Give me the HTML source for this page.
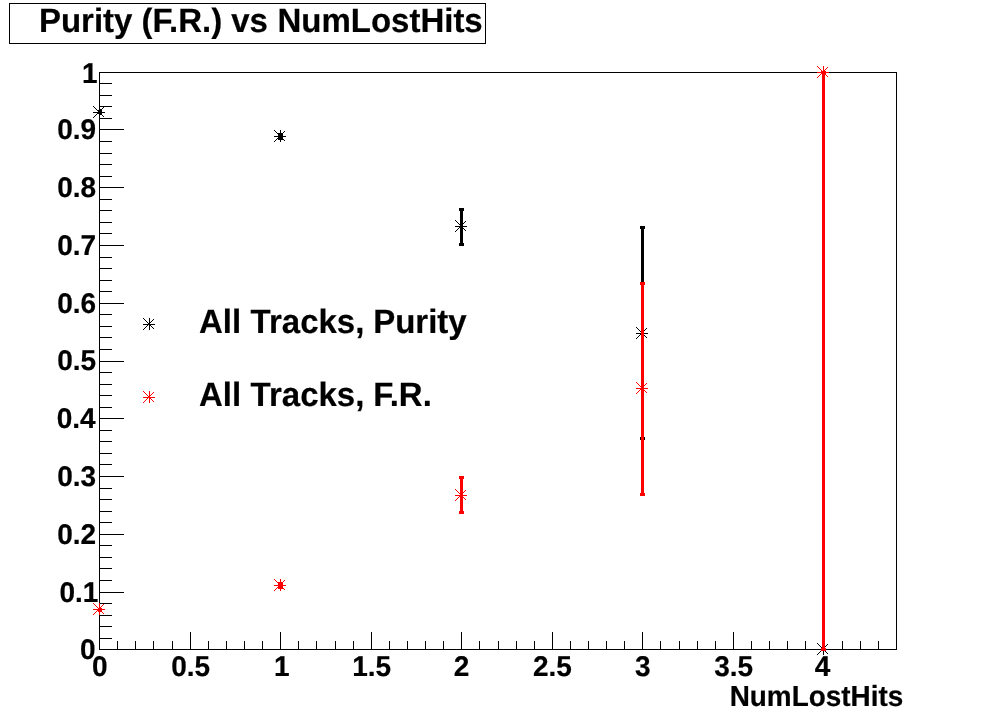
<!DOCTYPE html>
<html lang="en">
<head>
<meta charset="utf-8">
<title>Purity (F.R.) vs NumLostHits</title>
<style>
html,body{margin:0;padding:0;background:#fff;}
body{width:996px;height:722px;overflow:hidden;}
svg{display:block;}
text{text-rendering:geometricPrecision;}
</style>
</head>
<body>
<svg width="996" height="722" viewBox="0 0 996 722">
<rect x="0" y="0" width="996" height="722" fill="#fff"/>
<g shape-rendering="crispEdges">
<rect x="9.5" y="3.5" width="476" height="40" fill="#fff" stroke="#000" stroke-width="1"/>
<rect x="99.5" y="72.5" width="797" height="577" fill="none" stroke="#000" stroke-width="1"/>
<rect x="100" y="649" width="24" height="1" fill="#000"/>
<rect x="100" y="638" width="12" height="1" fill="#000"/>
<rect x="100" y="626" width="12" height="1" fill="#000"/>
<rect x="100" y="615" width="12" height="1" fill="#000"/>
<rect x="100" y="603" width="12" height="1" fill="#000"/>
<rect x="100" y="592" width="24" height="1" fill="#000"/>
<rect x="100" y="580" width="12" height="1" fill="#000"/>
<rect x="100" y="568" width="12" height="1" fill="#000"/>
<rect x="100" y="557" width="12" height="1" fill="#000"/>
<rect x="100" y="545" width="12" height="1" fill="#000"/>
<rect x="100" y="534" width="24" height="1" fill="#000"/>
<rect x="100" y="522" width="12" height="1" fill="#000"/>
<rect x="100" y="511" width="12" height="1" fill="#000"/>
<rect x="100" y="499" width="12" height="1" fill="#000"/>
<rect x="100" y="488" width="12" height="1" fill="#000"/>
<rect x="100" y="476" width="24" height="1" fill="#000"/>
<rect x="100" y="464" width="12" height="1" fill="#000"/>
<rect x="100" y="453" width="12" height="1" fill="#000"/>
<rect x="100" y="441" width="12" height="1" fill="#000"/>
<rect x="100" y="430" width="12" height="1" fill="#000"/>
<rect x="100" y="418" width="24" height="1" fill="#000"/>
<rect x="100" y="407" width="12" height="1" fill="#000"/>
<rect x="100" y="395" width="12" height="1" fill="#000"/>
<rect x="100" y="384" width="12" height="1" fill="#000"/>
<rect x="100" y="372" width="12" height="1" fill="#000"/>
<rect x="100" y="361" width="24" height="1" fill="#000"/>
<rect x="100" y="349" width="12" height="1" fill="#000"/>
<rect x="100" y="337" width="12" height="1" fill="#000"/>
<rect x="100" y="326" width="12" height="1" fill="#000"/>
<rect x="100" y="314" width="12" height="1" fill="#000"/>
<rect x="100" y="303" width="24" height="1" fill="#000"/>
<rect x="100" y="291" width="12" height="1" fill="#000"/>
<rect x="100" y="280" width="12" height="1" fill="#000"/>
<rect x="100" y="268" width="12" height="1" fill="#000"/>
<rect x="100" y="257" width="12" height="1" fill="#000"/>
<rect x="100" y="245" width="24" height="1" fill="#000"/>
<rect x="100" y="233" width="12" height="1" fill="#000"/>
<rect x="100" y="222" width="12" height="1" fill="#000"/>
<rect x="100" y="210" width="12" height="1" fill="#000"/>
<rect x="100" y="199" width="12" height="1" fill="#000"/>
<rect x="100" y="187" width="24" height="1" fill="#000"/>
<rect x="100" y="176" width="12" height="1" fill="#000"/>
<rect x="100" y="164" width="12" height="1" fill="#000"/>
<rect x="100" y="153" width="12" height="1" fill="#000"/>
<rect x="100" y="141" width="12" height="1" fill="#000"/>
<rect x="100" y="129" width="24" height="1" fill="#000"/>
<rect x="100" y="118" width="12" height="1" fill="#000"/>
<rect x="100" y="106" width="12" height="1" fill="#000"/>
<rect x="100" y="95" width="12" height="1" fill="#000"/>
<rect x="100" y="83" width="12" height="1" fill="#000"/>
<rect x="100" y="72" width="24" height="1" fill="#000"/>
<rect x="99" y="632" width="1" height="17" fill="#000"/>
<rect x="117" y="641" width="1" height="8" fill="#000"/>
<rect x="135" y="641" width="1" height="8" fill="#000"/>
<rect x="153" y="641" width="1" height="8" fill="#000"/>
<rect x="172" y="641" width="1" height="8" fill="#000"/>
<rect x="190" y="632" width="1" height="17" fill="#000"/>
<rect x="208" y="641" width="1" height="8" fill="#000"/>
<rect x="226" y="641" width="1" height="8" fill="#000"/>
<rect x="244" y="641" width="1" height="8" fill="#000"/>
<rect x="262" y="641" width="1" height="8" fill="#000"/>
<rect x="280" y="632" width="1" height="17" fill="#000"/>
<rect x="298" y="641" width="1" height="8" fill="#000"/>
<rect x="316" y="641" width="1" height="8" fill="#000"/>
<rect x="335" y="641" width="1" height="8" fill="#000"/>
<rect x="353" y="641" width="1" height="8" fill="#000"/>
<rect x="371" y="632" width="1" height="17" fill="#000"/>
<rect x="389" y="641" width="1" height="8" fill="#000"/>
<rect x="407" y="641" width="1" height="8" fill="#000"/>
<rect x="425" y="641" width="1" height="8" fill="#000"/>
<rect x="443" y="641" width="1" height="8" fill="#000"/>
<rect x="461" y="632" width="1" height="17" fill="#000"/>
<rect x="479" y="641" width="1" height="8" fill="#000"/>
<rect x="498" y="641" width="1" height="8" fill="#000"/>
<rect x="516" y="641" width="1" height="8" fill="#000"/>
<rect x="534" y="641" width="1" height="8" fill="#000"/>
<rect x="552" y="632" width="1" height="17" fill="#000"/>
<rect x="570" y="641" width="1" height="8" fill="#000"/>
<rect x="588" y="641" width="1" height="8" fill="#000"/>
<rect x="606" y="641" width="1" height="8" fill="#000"/>
<rect x="624" y="641" width="1" height="8" fill="#000"/>
<rect x="642" y="632" width="1" height="17" fill="#000"/>
<rect x="660" y="641" width="1" height="8" fill="#000"/>
<rect x="679" y="641" width="1" height="8" fill="#000"/>
<rect x="697" y="641" width="1" height="8" fill="#000"/>
<rect x="715" y="641" width="1" height="8" fill="#000"/>
<rect x="733" y="632" width="1" height="17" fill="#000"/>
<rect x="751" y="641" width="1" height="8" fill="#000"/>
<rect x="769" y="641" width="1" height="8" fill="#000"/>
<rect x="787" y="641" width="1" height="8" fill="#000"/>
<rect x="805" y="641" width="1" height="8" fill="#000"/>
<rect x="823" y="632" width="1" height="17" fill="#000"/>
<rect x="842" y="641" width="1" height="8" fill="#000"/>
<rect x="860" y="641" width="1" height="8" fill="#000"/>
<rect x="878" y="641" width="1" height="8" fill="#000"/>
<rect x="896" y="641" width="1" height="8" fill="#000"/>
<rect x="98" y="110" width="4" height="4" fill="#000"/>
<rect x="99" y="109" width="3" height="6" fill="#000"/>
<rect x="279" y="134" width="3" height="5" fill="#000"/>
<rect x="278" y="133" width="5" height="3" fill="#000"/>
<rect x="278" y="137" width="5" height="3" fill="#000"/>
<rect x="460" y="209" width="3" height="36" fill="#000"/>
<rect x="459" y="208" width="5" height="3" fill="#000"/>
<rect x="459" y="243" width="5" height="3" fill="#000"/>
<rect x="641" y="227" width="3" height="212" fill="#000"/>
<rect x="640" y="226" width="5" height="3" fill="#000"/>
<rect x="640" y="437" width="5" height="3" fill="#000"/>
<rect x="822" y="72" width="3" height="578" fill="#000"/>
<rect x="821" y="71" width="5" height="3" fill="#000"/>
<rect x="821" y="648" width="5" height="3" fill="#000"/>
<rect x="93" y="112" width="12" height="1" fill="#000"/>
<rect x="99" y="106" width="1" height="12" fill="#000"/>
<path d="M93 106h1v1h-1zM94 107h1v1h-1zM95 108h1v1h-1zM96 109h1v1h-1zM97 110h1v1h-1zM98 111h1v1h-1zM99 112h1v1h-1zM100 113h1v1h-1zM101 114h1v1h-1zM102 115h1v1h-1zM103 116h1v1h-1zM93 117h1v1h-1zM94 116h1v1h-1zM95 115h1v1h-1zM96 114h1v1h-1zM97 113h1v1h-1zM98 112h1v1h-1zM99 111h1v1h-1zM100 110h1v1h-1zM101 109h1v1h-1zM102 108h1v1h-1zM103 107h1v1h-1z" fill="#000"/>
<rect x="274" y="136" width="12" height="1" fill="#000"/>
<rect x="280" y="130" width="1" height="12" fill="#000"/>
<path d="M274 130h1v1h-1zM275 131h1v1h-1zM276 132h1v1h-1zM277 133h1v1h-1zM278 134h1v1h-1zM279 135h1v1h-1zM280 136h1v1h-1zM281 137h1v1h-1zM282 138h1v1h-1zM283 139h1v1h-1zM284 140h1v1h-1zM274 141h1v1h-1zM275 140h1v1h-1zM276 139h1v1h-1zM277 138h1v1h-1zM278 137h1v1h-1zM279 136h1v1h-1zM280 135h1v1h-1zM281 134h1v1h-1zM282 133h1v1h-1zM283 132h1v1h-1zM284 131h1v1h-1z" fill="#000"/>
<rect x="455" y="226" width="12" height="1" fill="#000"/>
<rect x="461" y="220" width="1" height="12" fill="#000"/>
<path d="M455 220h1v1h-1zM456 221h1v1h-1zM457 222h1v1h-1zM458 223h1v1h-1zM459 224h1v1h-1zM460 225h1v1h-1zM461 226h1v1h-1zM462 227h1v1h-1zM463 228h1v1h-1zM464 229h1v1h-1zM465 230h1v1h-1zM455 231h1v1h-1zM456 230h1v1h-1zM457 229h1v1h-1zM458 228h1v1h-1zM459 227h1v1h-1zM460 226h1v1h-1zM461 225h1v1h-1zM462 224h1v1h-1zM463 223h1v1h-1zM464 222h1v1h-1zM465 221h1v1h-1z" fill="#000"/>
<rect x="636" y="333" width="12" height="1" fill="#000"/>
<rect x="642" y="327" width="1" height="12" fill="#000"/>
<path d="M636 327h1v1h-1zM637 328h1v1h-1zM638 329h1v1h-1zM639 330h1v1h-1zM640 331h1v1h-1zM641 332h1v1h-1zM642 333h1v1h-1zM643 334h1v1h-1zM644 335h1v1h-1zM645 336h1v1h-1zM646 337h1v1h-1zM636 338h1v1h-1zM637 337h1v1h-1zM638 336h1v1h-1zM639 335h1v1h-1zM640 334h1v1h-1zM641 333h1v1h-1zM642 332h1v1h-1zM643 331h1v1h-1zM644 330h1v1h-1zM645 329h1v1h-1zM646 328h1v1h-1z" fill="#000"/>
<rect x="817" y="649" width="12" height="1" fill="#000"/>
<rect x="823" y="643" width="1" height="12" fill="#000"/>
<path d="M817 643h1v1h-1zM818 644h1v1h-1zM819 645h1v1h-1zM820 646h1v1h-1zM821 647h1v1h-1zM822 648h1v1h-1zM823 649h1v1h-1zM824 650h1v1h-1zM825 651h1v1h-1zM826 652h1v1h-1zM827 653h1v1h-1zM817 654h1v1h-1zM818 653h1v1h-1zM819 652h1v1h-1zM820 651h1v1h-1zM821 650h1v1h-1zM822 649h1v1h-1zM823 648h1v1h-1zM824 647h1v1h-1zM825 646h1v1h-1zM826 645h1v1h-1zM827 644h1v1h-1z" fill="#000"/>
<rect x="98" y="608" width="4" height="4" fill="#f00"/>
<rect x="97" y="609" width="1" height="2" fill="#f00"/>
<rect x="279" y="583" width="3" height="5" fill="#f00"/>
<rect x="278" y="582" width="5" height="3" fill="#f00"/>
<rect x="278" y="586" width="5" height="3" fill="#f00"/>
<rect x="460" y="477" width="3" height="36" fill="#f00"/>
<rect x="459" y="476" width="5" height="3" fill="#f00"/>
<rect x="459" y="511" width="5" height="3" fill="#f00"/>
<rect x="641" y="283" width="3" height="212" fill="#f00"/>
<rect x="640" y="282" width="5" height="3" fill="#f00"/>
<rect x="640" y="493" width="5" height="3" fill="#f00"/>
<rect x="822" y="72" width="3" height="578" fill="#f00"/>
<rect x="821" y="71" width="5" height="3" fill="#f00"/>
<rect x="821" y="648" width="5" height="3" fill="#f00"/>
<rect x="93" y="609" width="12" height="1" fill="#f00"/>
<rect x="99" y="603" width="1" height="12" fill="#f00"/>
<path d="M93 603h1v1h-1zM94 604h1v1h-1zM95 605h1v1h-1zM96 606h1v1h-1zM97 607h1v1h-1zM98 608h1v1h-1zM99 609h1v1h-1zM100 610h1v1h-1zM101 611h1v1h-1zM102 612h1v1h-1zM103 613h1v1h-1zM93 614h1v1h-1zM94 613h1v1h-1zM95 612h1v1h-1zM96 611h1v1h-1zM97 610h1v1h-1zM98 609h1v1h-1zM99 608h1v1h-1zM100 607h1v1h-1zM101 606h1v1h-1zM102 605h1v1h-1zM103 604h1v1h-1z" fill="#f00"/>
<rect x="274" y="585" width="12" height="1" fill="#f00"/>
<rect x="280" y="579" width="1" height="12" fill="#f00"/>
<path d="M274 579h1v1h-1zM275 580h1v1h-1zM276 581h1v1h-1zM277 582h1v1h-1zM278 583h1v1h-1zM279 584h1v1h-1zM280 585h1v1h-1zM281 586h1v1h-1zM282 587h1v1h-1zM283 588h1v1h-1zM284 589h1v1h-1zM274 590h1v1h-1zM275 589h1v1h-1zM276 588h1v1h-1zM277 587h1v1h-1zM278 586h1v1h-1zM279 585h1v1h-1zM280 584h1v1h-1zM281 583h1v1h-1zM282 582h1v1h-1zM283 581h1v1h-1zM284 580h1v1h-1z" fill="#f00"/>
<rect x="455" y="495" width="12" height="1" fill="#f00"/>
<rect x="461" y="489" width="1" height="12" fill="#f00"/>
<path d="M455 489h1v1h-1zM456 490h1v1h-1zM457 491h1v1h-1zM458 492h1v1h-1zM459 493h1v1h-1zM460 494h1v1h-1zM461 495h1v1h-1zM462 496h1v1h-1zM463 497h1v1h-1zM464 498h1v1h-1zM465 499h1v1h-1zM455 500h1v1h-1zM456 499h1v1h-1zM457 498h1v1h-1zM458 497h1v1h-1zM459 496h1v1h-1zM460 495h1v1h-1zM461 494h1v1h-1zM462 493h1v1h-1zM463 492h1v1h-1zM464 491h1v1h-1zM465 490h1v1h-1z" fill="#f00"/>
<rect x="636" y="388" width="12" height="1" fill="#f00"/>
<rect x="642" y="382" width="1" height="12" fill="#f00"/>
<path d="M636 382h1v1h-1zM637 383h1v1h-1zM638 384h1v1h-1zM639 385h1v1h-1zM640 386h1v1h-1zM641 387h1v1h-1zM642 388h1v1h-1zM643 389h1v1h-1zM644 390h1v1h-1zM645 391h1v1h-1zM646 392h1v1h-1zM636 393h1v1h-1zM637 392h1v1h-1zM638 391h1v1h-1zM639 390h1v1h-1zM640 389h1v1h-1zM641 388h1v1h-1zM642 387h1v1h-1zM643 386h1v1h-1zM644 385h1v1h-1zM645 384h1v1h-1zM646 383h1v1h-1z" fill="#f00"/>
<rect x="817" y="72" width="12" height="1" fill="#f00"/>
<rect x="823" y="66" width="1" height="12" fill="#f00"/>
<path d="M817 66h1v1h-1zM818 67h1v1h-1zM819 68h1v1h-1zM820 69h1v1h-1zM821 70h1v1h-1zM822 71h1v1h-1zM823 72h1v1h-1zM824 73h1v1h-1zM825 74h1v1h-1zM826 75h1v1h-1zM827 76h1v1h-1zM817 77h1v1h-1zM818 76h1v1h-1zM819 75h1v1h-1zM820 74h1v1h-1zM821 73h1v1h-1zM822 72h1v1h-1zM823 71h1v1h-1zM824 70h1v1h-1zM825 69h1v1h-1zM826 68h1v1h-1zM827 67h1v1h-1z" fill="#f00"/>
<rect x="143" y="324" width="12" height="1" fill="#000"/>
<rect x="149" y="318" width="1" height="12" fill="#000"/>
<path d="M143 318h1v1h-1zM144 319h1v1h-1zM145 320h1v1h-1zM146 321h1v1h-1zM147 322h1v1h-1zM148 323h1v1h-1zM149 324h1v1h-1zM150 325h1v1h-1zM151 326h1v1h-1zM152 327h1v1h-1zM153 328h1v1h-1zM143 329h1v1h-1zM144 328h1v1h-1zM145 327h1v1h-1zM146 326h1v1h-1zM147 325h1v1h-1zM148 324h1v1h-1zM149 323h1v1h-1zM150 322h1v1h-1zM151 321h1v1h-1zM152 320h1v1h-1zM153 319h1v1h-1z" fill="#000"/>
<rect x="143" y="397" width="12" height="1" fill="#f00"/>
<rect x="149" y="391" width="1" height="12" fill="#f00"/>
<path d="M143 391h1v1h-1zM144 392h1v1h-1zM145 393h1v1h-1zM146 394h1v1h-1zM147 395h1v1h-1zM148 396h1v1h-1zM149 397h1v1h-1zM150 398h1v1h-1zM151 399h1v1h-1zM152 400h1v1h-1zM153 401h1v1h-1zM143 402h1v1h-1zM144 401h1v1h-1zM145 400h1v1h-1zM146 399h1v1h-1zM147 398h1v1h-1zM148 397h1v1h-1zM149 396h1v1h-1zM150 395h1v1h-1zM151 394h1v1h-1zM152 393h1v1h-1zM153 392h1v1h-1z" fill="#f00"/>
</g>
<g font-family="'Liberation Sans',Arial,Helvetica,sans-serif" font-weight="bold" fill="#000" stroke="#000" stroke-width="0.2" stroke-linejoin="round">
<text transform="translate(0 32.1) scale(1 1.025)" font-size="33" xml:space="preserve"><tspan x="38.9">Purity </tspan><tspan x="141.5">(F.R.) </tspan><tspan x="231.2">vs </tspan><tspan x="277.4">NumLostHits</tspan></text>
<text transform="translate(0 332.9) scale(1 1.025)" font-size="33" xml:space="preserve"><tspan x="198.9">All </tspan><tspan x="250.6">Tracks, </tspan><tspan x="373.2">Purity</tspan></text>
<text transform="translate(0 405.85) scale(1 1.025)" font-size="33" xml:space="preserve"><tspan x="198.9">All </tspan><tspan x="250.6">Tracks, </tspan><tspan x="373.2">F.R.</tspan></text>
<text transform="translate(95.5 659.2) scale(1 1.02)" font-size="28" text-anchor="end">0</text>
<text transform="translate(98.4 601.6) scale(1 1.02)" font-size="28" text-anchor="end">0.1</text>
<text transform="translate(96.2 544.25) scale(1 1.02)" font-size="28" text-anchor="end">0.2</text>
<text transform="translate(96.2 486.05) scale(1 1.02)" font-size="28" text-anchor="end">0.3</text>
<text transform="translate(95.7 427.95) scale(1 1.02)" font-size="28" text-anchor="end">0.4</text>
<text transform="translate(96.2 370.4) scale(1 1.02)" font-size="28" text-anchor="end">0.5</text>
<text transform="translate(96.2 313.15) scale(1 1.02)" font-size="28" text-anchor="end">0.6</text>
<text transform="translate(96.2 254.65) scale(1 1.02)" font-size="28" text-anchor="end">0.7</text>
<text transform="translate(96.2 197.05) scale(1 1.02)" font-size="28" text-anchor="end">0.8</text>
<text transform="translate(96.2 139.05) scale(1 1.02)" font-size="28" text-anchor="end">0.9</text>
<text transform="translate(97.5 83.3) scale(1 1.02)" font-size="28" text-anchor="end">1</text>
<text transform="translate(99.8 675.9) scale(1 1.02)" font-size="28" text-anchor="middle">0</text>
<text transform="translate(190.645 675.9) scale(1 1.02)" font-size="28" text-anchor="middle">0.5</text>
<text transform="translate(281.691 675.9) scale(1 1.02)" font-size="28" text-anchor="middle">1</text>
<text transform="translate(371.736 675.9) scale(1 1.02)" font-size="28" text-anchor="middle">1.5</text>
<text transform="translate(461.582 675.9) scale(1 1.02)" font-size="28" text-anchor="middle">2</text>
<text transform="translate(552.427 675.9) scale(1 1.02)" font-size="28" text-anchor="middle">2.5</text>
<text transform="translate(642.873 675.9) scale(1 1.02)" font-size="28" text-anchor="middle">3</text>
<text transform="translate(733.718 675.9) scale(1 1.02)" font-size="28" text-anchor="middle">3.5</text>
<text transform="translate(822.564 675.9) scale(1 1.02)" font-size="28" text-anchor="middle">4</text>
<text transform="translate(903.2 706.2) scale(1 1.04)" font-size="27.9" text-anchor="end">NumLostHits</text>
</g>
</svg>
</body>
</html>
